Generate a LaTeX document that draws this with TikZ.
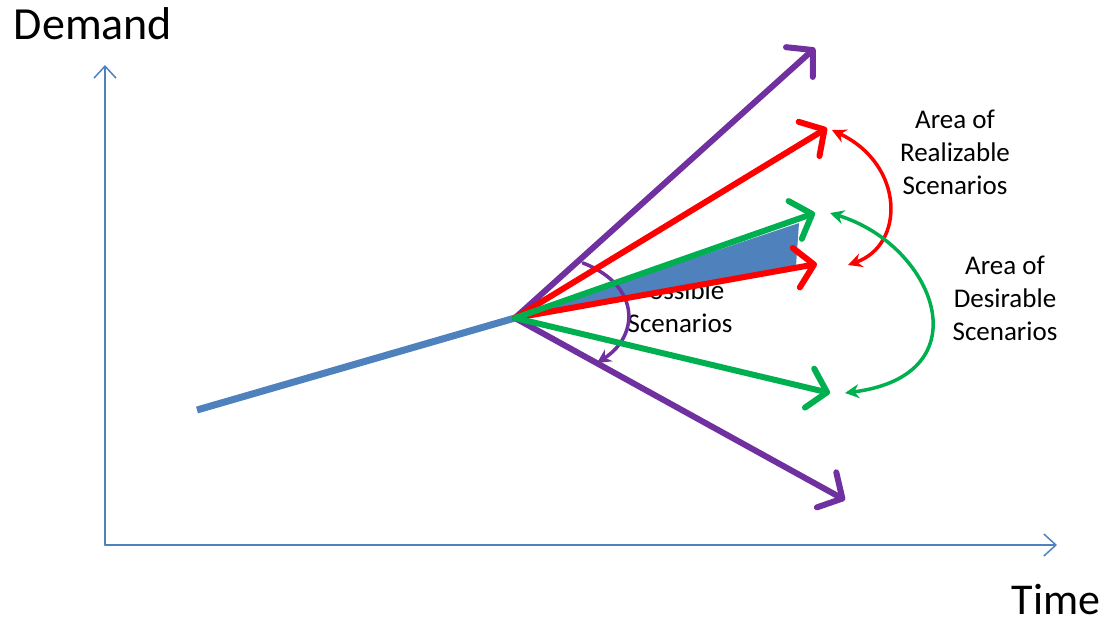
\documentclass[tikz,border=0pt]{standalone}
\usepackage{fontspec}
\setmainfont{Carlito}
\usetikzlibrary{arrows.meta}
\definecolor{axisblue}{RGB}{79,129,189}
\definecolor{scenpurple}{RGB}{112,48,160}
\definecolor{scengreen}{RGB}{0,176,80}
\definecolor{scenred}{RGB}{255,0,0}
\begin{document}
\begin{tikzpicture}[x=0.5pt, y=-0.5pt, line join=round, line cap=round,
	axis/.style={axisblue, line width=0.75pt, -{Straight Barb[length=6pt,width=11pt]}},
	scen/.style={line width=3pt, -{Straight Barb[length=9pt,width=20pt,round]}},
	area/.style={line width=1.75pt, {Stealth[length=7pt,width=7pt]}-{Stealth[length=7pt,width=7pt]}},
	lbl/.style={align=center, font=\fontsize{13.5pt}{16.5pt}\selectfont}]
	\useasboundingbox (0,0) rectangle (1115,627);
	% axes
	\coordinate (o) at (105,545);
	\coordinate (ytop) at (105,65);
	\coordinate (xend) at (1057,545);
	\draw[axis] (o) -- (ytop);
	\draw[axis] (o) -- (xend);
	\node (demand) at (93,24) {\fontsize{23pt}{27pt}\selectfont Demand};
	\node[inner sep=0pt] (time) at (1056,600) {\fontsize{22pt}{26pt}\selectfont Time};
	% past demand
	\coordinate (past) at (197,410);
	\coordinate (now) at (515,318);
	\draw[axisblue, line width=3.5pt, line cap=butt] (past) -- (now);
	% labels
	\node[lbl] (possible) at (680,307) {Possible\\Scenarios};
	\node[lbl] (realizable) at (955,152) {Area of\\Realizable\\Scenarios};
	\node[lbl] (desirable) at (1005,298) {Area of\\Desirable\\Scenarios};
	% scenario tips
	\coordinate (pup) at (815,48);
	\coordinate (pdown) at (845,500);
	\coordinate (rup) at (827,128);
	\coordinate (rdown) at (817,264);
	\coordinate (gup) at (815,213);
	\coordinate (gdown) at (830,393);
	\fill[axisblue] (now) -- (799,223) -- (796,266) -- cycle;
	% possible range
	\coordinate (pa) at (583,263);
	\coordinate (pb) at (597,363);
	\draw[scenpurple, line width=1.75pt, -{Stealth[length=7pt,width=7pt]}] (pa) .. controls (640,285) and (640,335) .. (pb);
	\draw[scen, scenpurple] (now) -- (pup);
	\draw[scen, scenpurple] (now) -- (pdown);
	\draw[scen, scenred] (now) -- (rup);
	\draw[scen, scenred] (now) -- (rdown);
	\draw[scen, scengreen] (now) -- (gup);
	\draw[scen, scengreen] (now) -- (gdown);
	% areas
	\coordinate (ra) at (832,130);
	\coordinate (rb) at (848,265);
	\coordinate (ga) at (830,213);
	\coordinate (gb) at (845,393);
	\draw[area, scenred] (ra) .. controls (905,165) and (905,245) .. (rb);
	\draw[area, scengreen] (ga) .. controls (935,245) and (985,375) .. (gb);
\end{tikzpicture}
\end{document}
